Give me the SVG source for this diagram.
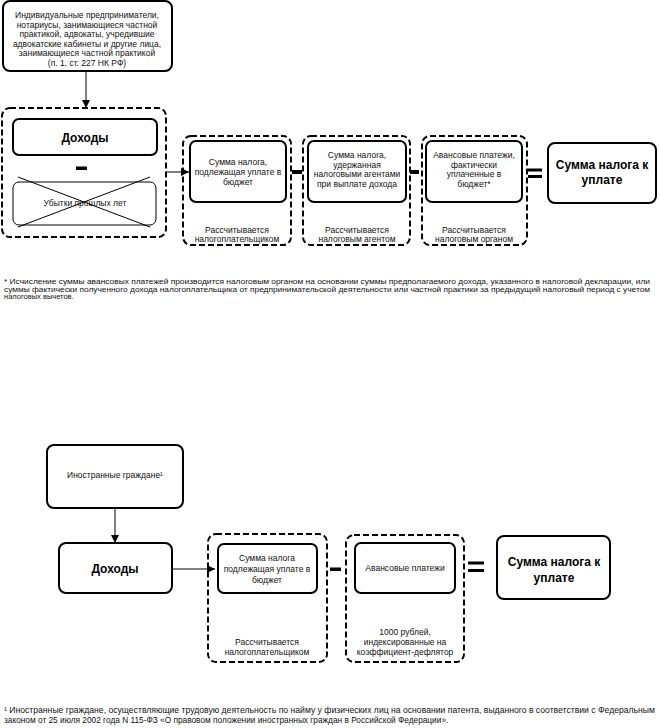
<svg xmlns="http://www.w3.org/2000/svg" width="660" height="728" viewBox="0 0 660 728">
<style>
.box{fill:#fff;stroke:#000;stroke-width:2}
.thin{fill:#fff;stroke:#000;stroke-width:1}
.dash{fill:none;stroke:#000;stroke-width:2;stroke-dasharray:6 3}
.t{font-family:"Liberation Sans",Arial,sans-serif;font-size:8.5px;text-anchor:middle;fill:#111}
.b{font-family:"Liberation Sans",Arial,sans-serif;font-size:12px;font-weight:bold;text-anchor:middle;fill:#000}
.fn{font-family:"Liberation Sans",Arial,sans-serif;font-size:7.5px;fill:#111}
.fn2{font-family:"Liberation Sans",Arial,sans-serif;font-size:8.3px;fill:#111}
.ln{stroke:#000;stroke-width:1;fill:none}
.op{fill:#000}
</style>
<defs>
<marker id="ah" viewBox="0 0 10 10" refX="10" refY="5" markerWidth="8" markerHeight="8" markerUnits="userSpaceOnUse" orient="auto">
<path d="M0,0 L10,5 L0,10 z" fill="#000"/>
</marker>
</defs>

<g id="connectors">
<line class="ln" x1="86" y1="72" x2="86" y2="108" marker-end="url(#ah)"/>
<line class="ln" x1="166" y1="172" x2="189" y2="172" marker-end="url(#ah)"/>
<line class="ln" x1="115" y1="508" x2="115" y2="543" marker-end="url(#ah)"/>
<line class="ln" x1="172" y1="569" x2="215" y2="569" marker-end="url(#ah)"/>
</g>

<g id="top-entity">
<rect class="box" x="3" y="1" width="169" height="70" rx="7"/>
<text class="t" x="87" y="18">Индивидуальные предприниматели,</text>
<text class="t" x="87" y="27.5">нотариусы, занимающиеся частной</text>
<text class="t" x="87" y="37">практикой, адвокаты, учредившие</text>
<text class="t" x="87" y="46.5">адвокатские кабинеты и другие лица,</text>
<text class="t" x="87" y="56">занимающиеся частной практикой</text>
<text class="t" x="87" y="65.5">(п. 1. ст. 227 НК РФ)</text>
</g>

<g id="income-group">
<rect class="dash" x="2" y="108" width="164" height="129" rx="8"/>
<rect class="box" x="13" y="119" width="144" height="36" rx="6"/>
<text class="b" x="85" y="142">Доходы</text>
<rect class="op" x="76" y="166.5" width="11" height="3.5"/>
<rect class="thin" x="13" y="182" width="143" height="43" rx="6"/>
<text class="t" x="85" y="206">Убытки прошлых лет</text>
<line class="ln" x1="18" y1="177" x2="150" y2="227" stroke-width="1.5"/>
<line class="ln" x1="18" y1="227" x2="150" y2="177" stroke-width="1.5"/>
</g>

<g id="tax-payer">
<rect class="dash" x="183" y="136" width="108" height="109" rx="8"/>
<rect class="box" x="190" y="141" width="96" height="61" rx="6"/>
<text class="t" x="238" y="165">Сумма налога,</text>
<text class="t" x="238" y="175">подлежащая уплате в</text>
<text class="t" x="238" y="185">бюджет</text>
<text class="t" x="237" y="233">Рассчитывается</text>
<text class="t" x="237" y="242">налогоплательщиком</text>
</g>
<rect class="op" x="292" y="170" width="10" height="4"/>

<g id="tax-agent">
<rect class="dash" x="303" y="136" width="107" height="109" rx="8"/>
<rect class="box" x="308" y="141" width="98" height="61" rx="6"/>
<text class="t" x="357" y="158">Сумма налога,</text>
<text class="t" x="357" y="167.5">удержанная</text>
<text class="t" x="357" y="177">налоговыми агентами</text>
<text class="t" x="357" y="186.5">при выплате дохода</text>
<text class="t" x="357" y="233">Рассчитывается</text>
<text class="t" x="357" y="242">налоговым агентом</text>
</g>
<rect class="op" x="410" y="170" width="9" height="4"/>

<g id="advance-top">
<rect class="dash" x="422" y="136" width="105" height="109" rx="8"/>
<rect class="box" x="426" y="141" width="96" height="61" rx="6"/>
<text class="t" x="474" y="158">Авансовые платежи,</text>
<text class="t" x="474" y="167.5">фактически</text>
<text class="t" x="474" y="177">уплаченные в</text>
<text class="t" x="474" y="186.5">бюджет*</text>
<text class="t" x="474" y="233">Рассчитывается</text>
<text class="t" x="474" y="242">налоговым органом</text>
</g>
<rect class="op" x="528" y="168.5" width="14" height="3"/>
<rect class="op" x="528" y="175" width="14" height="3"/>

<g id="result-top">
<rect class="box" x="548" y="143" width="108" height="60" rx="7"/>
<text class="b" x="602" y="169">Сумма налога к</text>
<text class="b" x="602" y="184">уплате</text>
</g>

<g id="footnote-top">
<text class="fn" x="4" y="284" textLength="646" lengthAdjust="spacingAndGlyphs">* Исчисление суммы авансовых платежей производится налоговым органом на основании суммы предполагаемого дохода, указанного в налоговой декларации, или</text>
<text class="fn" x="4" y="291.5" textLength="646" lengthAdjust="spacingAndGlyphs">суммы фактически полученного дохода налогоплательщика от предпринимательской деятельности или частной практики за предыдущий налоговый период с учетом</text>
<text class="fn" x="4" y="299">налоговых вычетов.</text>
</g>

<g id="foreign-entity">
<rect class="box" x="47" y="445" width="136" height="63" rx="7" stroke-width="1.5"/>
<text class="t" x="115" y="478">Иностранные граждане¹</text>
</g>

<g id="income-bottom">
<rect class="box" x="59" y="543" width="113" height="50" rx="7"/>
<text class="b" x="115" y="573" font-size="13">Доходы</text>
</g>

<g id="tax-payer-bottom">
<rect class="dash" x="208" y="534" width="119" height="128" rx="8"/>
<rect class="box" x="218" y="544" width="99" height="49" rx="6"/>
<text class="t" x="267" y="561">Сумма налога</text>
<text class="t" x="267" y="572">подлежащая уплате в</text>
<text class="t" x="267" y="583">бюджет</text>
<text class="t" x="267" y="645">Рассчитывается</text>
<text class="t" x="267" y="655">налогоплательщиком</text>
</g>
<rect class="op" x="330" y="567.5" width="11" height="3.5"/>

<g id="advance-bottom">
<rect class="dash" x="346" y="535" width="118" height="127" rx="8"/>
<rect class="box" x="355" y="543" width="100" height="50" rx="6"/>
<text class="t" x="405" y="571">Авансовые платежи</text>
<text class="t" x="405" y="635">1000 рублей,</text>
<text class="t" x="405" y="645">индексированные на</text>
<text class="t" x="405" y="655">коэффициент-дефлятор</text>
</g>
<rect class="op" x="468" y="561.5" width="16" height="3"/>
<rect class="op" x="468" y="569" width="16" height="3"/>

<g id="result-bottom">
<rect class="box" x="497" y="536" width="113" height="63" rx="7"/>
<text class="b" x="554" y="566">Сумма налога к</text>
<text class="b" x="554" y="582">уплате</text>
</g>

<g id="footnote-bottom">
<text class="fn2" x="4" y="713" textLength="651" lengthAdjust="spacingAndGlyphs">¹ Иностранные граждане, осуществляющие трудовую деятельность по найму у физических лиц на основании патента, выданного в соответствии с Федеральным</text>
<text class="fn2" x="4" y="723">законом от 25 июля 2002 года N 115-ФЗ «О правовом положении иностранных граждан в Российской Федерации».</text>
</g>
</svg>
